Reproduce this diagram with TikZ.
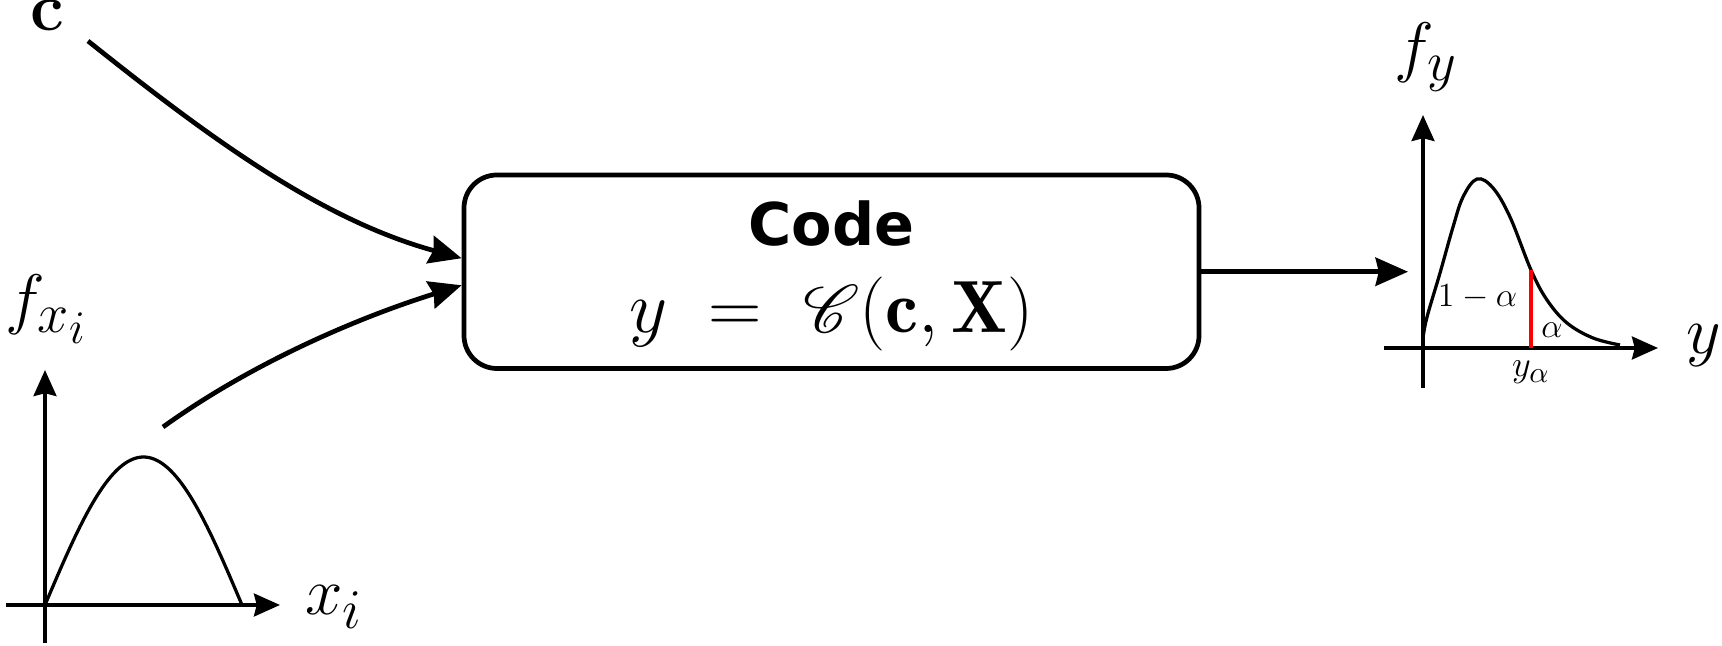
\RequirePackage{fix-cm}
\documentclass[tikz,border=0pt]{standalone}
\usepackage{mathrsfs}
\usepackage{fontspec}
\newfontfamily\codefont{DejaVu Sans}
\usetikzlibrary{arrows.meta}
\DeclareMathSizes{27.4}{27.4}{20}{15}
\DeclareMathSizes{12.5}{12.5}{10}{8}
\DeclareMathSizes{13.5}{13.5}{11}{9}
\tikzset{
  codebox/.style={draw, line width=1.75pt, rounded corners=12.2pt,
    minimum width=271.95pt, minimum height=71.6pt, inner sep=0pt},
  flow/.style={line width=1.75pt, -{Stealth[length=12pt,width=10.4pt,inset=1.2pt]}},
  axisarrow/.style={line width=1.5pt, -{Stealth[length=9.6pt,width=8.4pt,inset=1pt]}},
  axisline/.style={line width=1.5pt},
  pdfcurve/.style={line width=1.2pt},
  lbl/.style={inner sep=0pt, anchor=base west},
  smalllbl/.style={inner sep=0pt, anchor=base, font=\fontsize{12.5}{15}\selectfont},
}
\begin{document}
\begin{tikzpicture}[x=0.37pt, y=-0.37pt]
\useasboundingbox (0,0) rectangle (1722,646);

% central box
\node[codebox] (code) at (831.5,271.75) {};
\node[inner sep=0pt, anchor=base] (codetitle) at (831.5,246)
  {\codefont\bfseries\fontsize{21.8}{26}\selectfont Code};
\node[inner sep=0pt, anchor=base] (codeeq) at (831.5,333)
  {\fontsize{27.4}{33}\selectfont $y\;=\;\mathscr{C}(\mathbf{c},\mathbf{X})$};

% input c
\node[inner sep=0pt, anchor=base] (clabel) at (47,31)
  {\fontsize{25}{30}\selectfont\bfseries c};
\coordinate (cstart) at (88,41);
\coordinate (intop) at ([yshift=5pt]code.west);
\coordinate (inbot) at ([yshift=-5pt]code.west);
\draw[flow] (cstart) .. controls (212,140) and (322,220) .. (intop);

% input distribution
\coordinate (xstart) at (163,427);
\draw[flow] (xstart) .. controls (252,363) and (357,318) .. (inbot);

% left plot
\coordinate (lo) at (45,605);
\draw[axisline] (45,643) -- (lo);
\draw[axisarrow] (lo) -- (45,370);
\draw[axisarrow] (6,605) -- (280,605);
\draw[pdfcurve] plot[domain=0:180, samples=80, variable=\s]
  ({45+\s/180*197}, {605-148*sin(\s)});
\node[lbl] (fxlabel) at (5,322) {\Huge $f_{x_i}$};
\node[lbl] (xlabel) at (305,615) {\Huge $x_i$};

% output arrow
\coordinate (outtip) at (1408,271.75);
\draw[flow] (code.east) -- (outtip);

% right plot
\coordinate (ro) at (1423,348);
\draw[axisline] (1423,388) -- (ro);
\draw[axisarrow] (ro) -- (1423,115);
\draw[axisarrow] (1384,348) -- (1658,348);
\draw[pdfcurve] plot[smooth, tension=0.6] coordinates {
  (1423,338) (1427,317) (1440,273) (1453,227) (1463,197) (1477,179)
  (1493,188) (1510,217) (1531,270) (1547,300) (1567,323) (1593,338) (1620,345)};
\draw[red, line width=1.2pt] (1531,270) -- (1531,348);
\node[lbl] (fylabel) at (1394,70) {\Huge $f_y$};
\node[lbl] (ylabel) at (1686,354) {\Huge $y$};
\node[smalllbl] (onema) at (1477.5,307) {$1-\alpha$};
\node[smalllbl] (alab) at (1552,338) {$\alpha$};
\node[smalllbl, font=\fontsize{13.5}{16}\selectfont] (yalab) at (1531,377) {$y_\alpha$};
\end{tikzpicture}
\end{document}
